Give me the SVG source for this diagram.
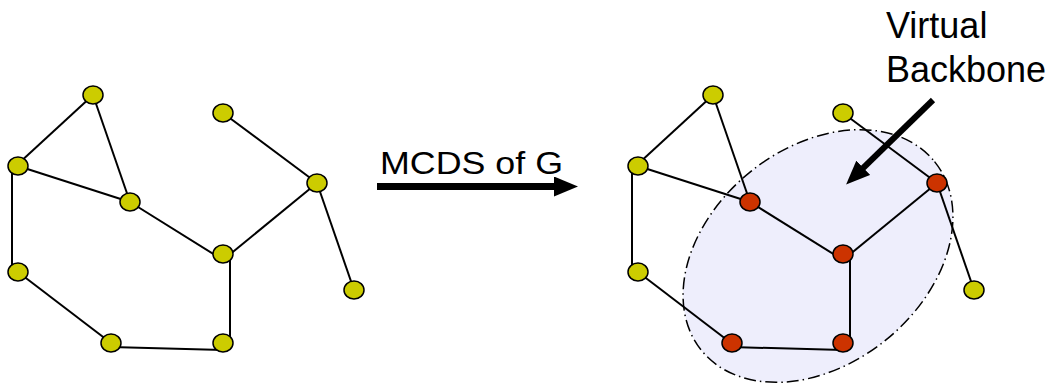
<svg xmlns="http://www.w3.org/2000/svg" width="1056" height="386" viewBox="0 0 1056 386">
<style>
.edge{stroke:#000;stroke-width:2;fill:none}
.n{fill:#CCCC00;stroke:#000;stroke-width:1.5}
.r{fill:#CC3300;stroke:#000;stroke-width:1.5}
.lbl{font-family:"Liberation Sans",Arial,sans-serif;fill:#000}
.big{stroke:#000;fill:none}
</style>
<defs>
<marker id="ah" markerUnits="userSpaceOnUse" markerWidth="24" markerHeight="20" refX="6" refY="10" orient="auto" viewBox="0 0 24 20">
<path d="M0,0 L24,10 L0,20 Z" fill="#000"/>
</marker>
</defs>
<rect width="1056" height="386" fill="#fff"/>
<g id="backbone-region">
<ellipse cx="818" cy="256" rx="150" ry="108" transform="rotate(-39 818 256)" fill="#EEEEFC" stroke="#000" stroke-width="1.5" stroke-dasharray="12,4,1.5,4"/>
</g>
<g id="connectors">
<g id="left-edges">
<line class="edge" x1="93" y1="95" x2="18" y2="164"/>
<line class="edge" x1="93" y1="95" x2="130" y2="202"/>
<line class="edge" x1="18" y1="166" x2="130" y2="202"/>
<line class="edge" x1="12" y1="166" x2="12" y2="272"/>
<line class="edge" x1="130" y1="202" x2="223" y2="260"/>
<line class="edge" x1="223" y1="260" x2="317" y2="183"/>
<line class="edge" x1="223" y1="113" x2="317" y2="183"/>
<line class="edge" x1="317" y1="183" x2="354" y2="290"/>
<line class="edge" x1="230" y1="260" x2="230" y2="348"/>
<line class="edge" x1="18" y1="272" x2="111" y2="343"/>
<line class="edge" x1="111" y1="347" x2="223" y2="350"/>
</g>
<g id="right-edges">
<line class="edge" x1="713" y1="95" x2="638" y2="164"/>
<line class="edge" x1="713" y1="95" x2="750" y2="202"/>
<line class="edge" x1="638" y1="166" x2="750" y2="202"/>
<line class="edge" x1="632" y1="166" x2="632" y2="272"/>
<line class="edge" x1="750" y1="202" x2="843" y2="260"/>
<line class="edge" x1="843" y1="260" x2="937" y2="183"/>
<line class="edge" x1="843" y1="113" x2="937" y2="183"/>
<line class="edge" x1="937" y1="183" x2="974" y2="290"/>
<line class="edge" x1="850" y1="260" x2="850" y2="348"/>
<line class="edge" x1="638" y1="272" x2="731" y2="343"/>
<line class="edge" x1="731" y1="347" x2="843" y2="350"/>
</g>
<line id="mcds-arrow" class="big" x1="377" y1="186.5" x2="560" y2="186.5" stroke-width="7" marker-end="url(#ah)"/>
<line id="vb-arrow" class="big" x1="933" y1="100" x2="859" y2="172" stroke-width="6" marker-end="url(#ah)"/>
</g>
<g id="left-nodes">
<ellipse id="L1" class="n" cx="93" cy="95" rx="10" ry="9"/>
<ellipse id="L2" class="n" cx="223" cy="113" rx="10" ry="9"/>
<ellipse id="L3" class="n" cx="18" cy="166" rx="10" ry="9"/>
<ellipse id="L4" class="n" cx="130" cy="202" rx="10" ry="9"/>
<ellipse id="L5" class="n" cx="317" cy="183" rx="10" ry="9"/>
<ellipse id="L6" class="n" cx="223" cy="254" rx="10" ry="9"/>
<ellipse id="L7" class="n" cx="18" cy="272" rx="10" ry="9"/>
<ellipse id="L8" class="n" cx="354" cy="290" rx="10" ry="9"/>
<ellipse id="L9" class="n" cx="111" cy="343" rx="10" ry="9"/>
<ellipse id="L10" class="n" cx="223" cy="343" rx="10" ry="9"/>
</g>
<g id="right-nodes">
<ellipse id="R1" class="n" cx="713" cy="95" rx="10" ry="9"/>
<ellipse id="R2" class="n" cx="843" cy="113" rx="10" ry="9"/>
<ellipse id="R3" class="n" cx="638" cy="166" rx="10" ry="9"/>
<ellipse id="R4" class="r" cx="750" cy="202" rx="10" ry="9"/>
<ellipse id="R5" class="r" cx="937" cy="183" rx="10" ry="9"/>
<ellipse id="R6" class="r" cx="843" cy="254" rx="10" ry="9"/>
<ellipse id="R7" class="n" cx="638" cy="272" rx="10" ry="9"/>
<ellipse id="R8" class="n" cx="974" cy="290" rx="10" ry="9"/>
<ellipse id="R9" class="r" cx="732" cy="343" rx="10" ry="9"/>
<ellipse id="R10" class="r" cx="843" cy="343" rx="10" ry="9"/>
</g>
<g id="labels">
<text class="lbl" x="380" y="174" font-size="31" textLength="183" lengthAdjust="spacingAndGlyphs">MCDS of G</text>
<text class="lbl" x="886" y="38" font-size="36">Virtual</text>
<text class="lbl" x="886" y="82" font-size="36">Backbone</text>
</g>
</svg>
